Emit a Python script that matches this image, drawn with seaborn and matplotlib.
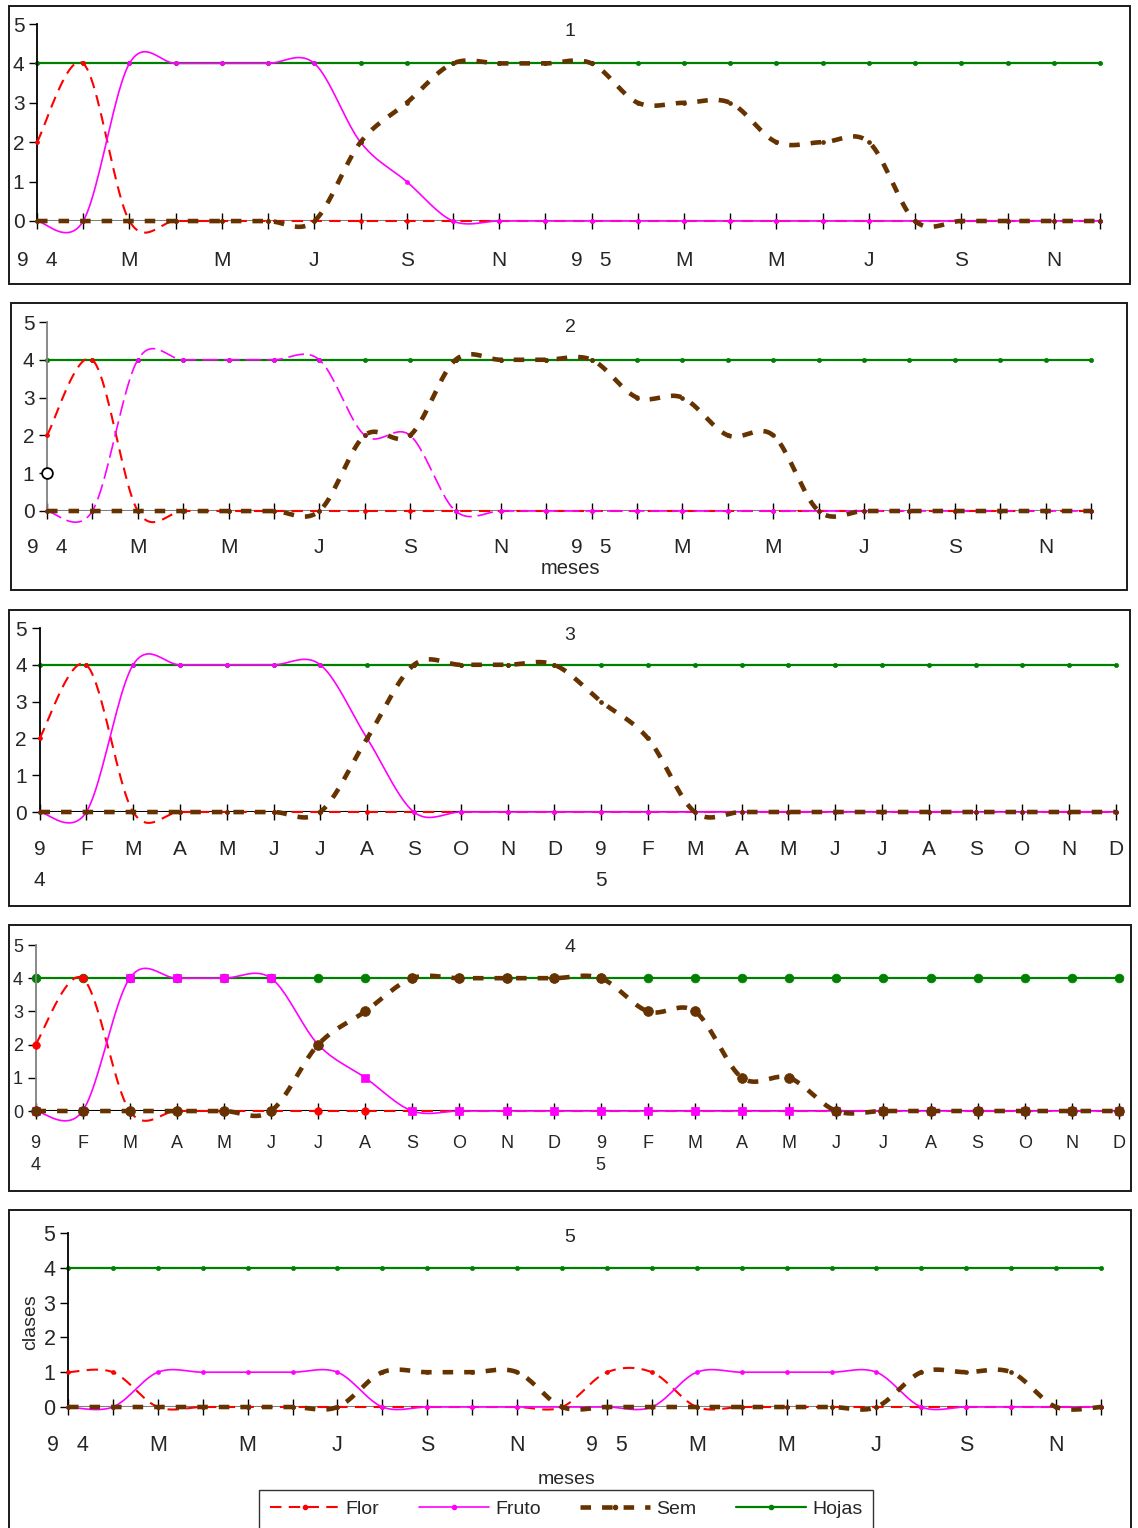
import numpy as np
import pandas as pd
import matplotlib
matplotlib.use("Agg")
import matplotlib.pyplot as plt
import seaborn as sns
from matplotlib.patches import Rectangle
from matplotlib.lines import Line2D
from matplotlib.transforms import blended_transform_factory

W, H = 1138, 1528

# ---------------- data ----------------
months = list(range(24))
labels_biannual = ["9   4", "", "M", "", "M", "", "J", "", "S", "", "N", "",
                   "9   5", "", "M", "", "M", "", "J", "", "S", "", "N", ""]
labels_monthly = ["9", "F", "M", "A", "M", "J", "J", "A", "S", "O", "N", "D",
                  "9", "F", "M", "A", "M", "J", "J", "A", "S", "O", "N", "D"]
year_digits = ["4", "5"]
series_names = ["Flor", "Fruto", "Sem", "Hojas"]
panel_titles = ["1", "2", "3", "4", "5"]

p1_flor = [2, 4, 0, 0, 0, 0, 0, 0, 0, 0, 0, 0, 0, 0, 0, 0, 0, 0, 0, 0, 0, 0, 0, 0]
p1_fruto = [0, 0, 4, 4, 4, 4, 4, 2, 1, 0, 0, 0, 0, 0, 0, 0, 0, 0, 0, 0, 0, 0, 0, 0]
p1_sem = [0, 0, 0, 0, 0, 0, 0, 2, 3, 4, 4, 4, 4, 3, 3, 3, 2, 2, 2, 0, 0, 0, 0, 0]
p1_hojas = [4, 4, 4, 4, 4, 4, 4, 4, 4, 4, 4, 4, 4, 4, 4, 4, 4, 4, 4, 4, 4, 4, 4, 4]

p2_flor = [2, 4, 0, 0, 0, 0, 0, 0, 0, 0, 0, 0, 0, 0, 0, 0, 0, 0, 0, 0, 0, 0, 0, 0]
p2_fruto = [0, 0, 4, 4, 4, 4, 4, 2, 2, 0, 0, 0, 0, 0, 0, 0, 0, 0, 0, 0, 0, 0, 0, 0]
p2_sem = [0, 0, 0, 0, 0, 0, 0, 2, 2, 4, 4, 4, 4, 3, 3, 2, 2, 0, 0, 0, 0, 0, 0, 0]
p2_hojas = [4, 4, 4, 4, 4, 4, 4, 4, 4, 4, 4, 4, 4, 4, 4, 4, 4, 4, 4, 4, 4, 4, 4, 4]

p3_flor = [2, 4, 0, 0, 0, 0, 0, 0, 0, 0, 0, 0, 0, 0, 0, 0, 0, 0, 0, 0, 0, 0, 0, 0]
p3_fruto = [0, 0, 4, 4, 4, 4, 4, 2, 0, 0, 0, 0, 0, 0, 0, 0, 0, 0, 0, 0, 0, 0, 0, 0]
p3_sem = [0, 0, 0, 0, 0, 0, 0, 2, 4, 4, 4, 4, 3, 2, 0, 0, 0, 0, 0, 0, 0, 0, 0, 0]
p3_hojas = [4, 4, 4, 4, 4, 4, 4, 4, 4, 4, 4, 4, 4, 4, 4, 4, 4, 4, 4, 4, 4, 4, 4, 4]

p4_flor = [2, 4, 0, 0, 0, 0, 0, 0, 0, 0, 0, 0, 0, 0, 0, 0, 0, 0, 0, 0, 0, 0, 0, 0]
p4_fruto = [0, 0, 4, 4, 4, 4, 2, 1, 0, 0, 0, 0, 0, 0, 0, 0, 0, 0, 0, 0, 0, 0, 0, 0]
p4_sem = [0, 0, 0, 0, 0, 0, 2, 3, 4, 4, 4, 4, 4, 3, 3, 1, 1, 0, 0, 0, 0, 0, 0, 0]
p4_hojas = [4, 4, 4, 4, 4, 4, 4, 4, 4, 4, 4, 4, 4, 4, 4, 4, 4, 4, 4, 4, 4, 4, 4, 4]

p5_flor = [1, 1, 0, 0, 0, 0, 0, 0, 0, 0, 0, 0, 1, 1, 0, 0, 0, 0, 0, 0, 0, 0, 0, 0]
p5_fruto = [0, 0, 1, 1, 1, 1, 1, 0, 0, 0, 0, 0, 0, 0, 1, 1, 1, 1, 1, 0, 0, 0, 0, 0]
p5_sem = [0, 0, 0, 0, 0, 0, 0, 1, 1, 1, 1, 0, 0, 0, 0, 0, 0, 0, 0, 1, 1, 1, 0, 0]
p5_hojas = [4, 4, 4, 4, 4, 4, 4, 4, 4, 4, 4, 4, 4, 4, 4, 4, 4, 4, 4, 4, 4, 4, 4, 4]

# ---------------- style ----------------
sns.set_style("white")
plt.rcParams["font.family"] = ["Liberation Sans Narrow", "Liberation Sans", "DejaVu Sans"]

C_FLOR = "#FF0000"
C_FRUTO = "#FF00FF"
C_SEM = "#663300"
C_HOJAS = "#008000"


def smooth(xs, ys, n=24):
    """Excel-like smoothed line (Catmull-Rom as cubic Bezier)."""
    P = np.column_stack([np.asarray(xs, float), np.asarray(ys, float)])
    out = []
    t = np.linspace(0, 1, n)[:, None]
    for i in range(len(P) - 1):
        p0 = P[i - 1] if i > 0 else P[i]
        p1, p2 = P[i], P[i + 1]
        p3 = P[i + 2] if i + 2 < len(P) else P[i + 1]
        b1 = p1 + (p2 - p0) / 6
        b2 = p2 - (p3 - p1) / 6
        seg = ((1 - t) ** 3) * p1 + 3 * ((1 - t) ** 2) * t * b1 + 3 * (1 - t) * t ** 2 * b2 + t ** 3 * p2
        out.append(seg if i == 0 else seg[1:])
    seg = np.vstack(out)
    return seg[:, 0], seg[:, 1]


fig = plt.figure(figsize=(W / 100, H / 100), dpi=100)


def fig_rect(l, t, r, b):
    return [l / W, 1 - b / H, (r - l) / W, (b - t) / H]


panels = [
    dict(data=(p1_flor, p1_fruto, p1_sem, p1_hojas), ax=(37, 24, 1100, 221),
         frame=(9, 6, 1130, 284), labels=labels_biannual, big=False, fruto_dash=False,
         yspine="black", xspine="#808080", tsize=15, xpad=16, row2=None, title_y=32),
    dict(data=(p2_flor, p2_fruto, p2_sem, p2_hojas), ax=(47, 322, 1091, 511),
         frame=(11, 303, 1127, 590), labels=labels_biannual, big=False, fruto_dash=True,
         yspine="#808080", xspine="#808080", tsize=15, xpad=14, row2=None, title_y=328),
    dict(data=(p3_flor, p3_fruto, p3_sem, p3_hojas), ax=(39.5, 628, 1116, 812),
         frame=(9, 610, 1130, 906), labels=labels_monthly, big=False, fruto_dash=False,
         yspine="black", xspine="black", tsize=15, xpad=15, row2=880, title_y=635),
    dict(data=(p4_flor, p4_fruto, p4_sem, p4_hojas), ax=(35.5, 945, 1119, 1111),
         frame=(9, 925, 1131, 1191), labels=labels_monthly, big=True, fruto_dash=False,
         yspine="#808080", xspine="black", tsize=13, xpad=11.5, row2=1166, title_y=948),
    dict(data=(p5_flor, p5_fruto, p5_sem, p5_hojas), ax=(68, 1233, 1101, 1407),
         frame=(9, 1210, 1131, 1560), labels=labels_biannual, big=False, fruto_dash=False,
         yspine="black", xspine="#808080", tsize=15.5, xpad=15, row2=None, title_y=1237),
]

for k, p in enumerate(panels):
    fl, tl, fr, fb = p["frame"]
    fig.patches.append(Rectangle((fl / W, 1 - fb / H), (fr - fl) / W, (fb - tl) / H,
                                 transform=fig.transFigure, fill=False,
                                 edgecolor="#1a1a1a", linewidth=1.4, zorder=0))
    l, t, r, b = p["ax"]
    ax = fig.add_axes(fig_rect(l, t, r, b))
    ax.set_facecolor("none")
    flor, fruto, sem, hojas = p["data"]
    big = p["big"]

    specs = [
        (hojas, C_HOJAS, 1.6, "-", "o", 40 if big else 9, 2),
        (flor, C_FLOR, 1.5, (0, (5.5, 3.5)), "o", 30 if big else 8, 3),
        (fruto, C_FRUTO, 1.2, (0, (9.5, 3.5)) if p["fruto_dash"] else "-", "s" if big else "o",
         40 if big else 8, 4),
        (sem, C_SEM, 3.3, (0, (2.3, 2.4)), "o", 50 if big else 8, 5),
    ]
    for vals, col, lw, ls, mk, ms, z in specs:
        sx, sy = smooth(months, vals)
        sns.lineplot(x=sx, y=sy, ax=ax, color=col, linewidth=lw, linestyle=ls,
                     sort=False, estimator=None, clip_on=False, zorder=z)
        sns.scatterplot(x=months, y=vals, ax=ax, color=col, marker=mk, s=ms,
                        edgecolor=col, linewidth=0.5, clip_on=False, zorder=z + 0.1)

    ax.set_xlim(0, 23)
    ax.set_ylim(0, 5)
    ax.set_xlabel("")
    ax.set_ylabel("")
    for s in ["top", "right", "bottom"]:
        ax.spines[s].set_visible(False)
    ax.spines["left"].set_color(p["yspine"])
    ax.spines["left"].set_linewidth(1.3)
    ax.axhline(0, color=p["xspine"], linewidth=1.5, zorder=1)

    ax.set_yticks(range(6))
    ax.set_yticklabels([str(v) for v in range(6)])
    ax.tick_params(axis="y", direction="out", length=6, width=1, pad=3,
                   labelsize=p["tsize"], color="black", left=True)
    ax.set_xticks(months)
    ax.set_xticklabels(p["labels"])
    ax.tick_params(axis="x", direction="inout", length=11, width=1,
                   pad=p["xpad"], labelsize=p["tsize"], color="black", bottom=True)
    ax.xaxis.set_ticks_position("bottom")

    if p["row2"] is not None:
        tr = blended_transform_factory(ax.transData, fig.transFigure)
        for xi, d in zip([0, 12], year_digits):
            ax.text(xi, 1 - p["row2"] / H, d, transform=tr, ha="center", va="center",
                    fontsize=p["tsize"])

    fig.text(570 / W, 1 - p["title_y"] / H, panel_titles[k], ha="center", va="center",
             fontsize=14)

    if k == 1:
        ax.scatter([0], [1], s=60, facecolor="white", edgecolor="black", linewidth=1.3,
                   zorder=10, clip_on=False)
        fig.text(570 / W, 1 - 569 / H, "meses", ha="center", va="center", fontsize=14.5)
    if k == 4:
        fig.text(567 / W, 1 - 1480 / H, "meses", ha="center", va="center", fontsize=14)
        fig.text(31 / W, 1 - 1322 / H, "clases", ha="center", va="center", fontsize=14,
                 rotation=90)

handles = [
    Line2D([], [], color=C_FLOR, lw=1.5, ls=(0, (5.5, 3.5)), marker="o", markersize=3),
    Line2D([], [], color=C_FRUTO, lw=1.2, ls="-", marker="o", markersize=3),
    Line2D([], [], color=C_SEM, lw=3.3, ls=(0, (2.3, 2.4)), marker="o", markersize=3),
    Line2D([], [], color=C_HOJAS, lw=1.6, ls="-", marker="o", markersize=3),
]
leg = fig.legend(handles, series_names, loc="upper left",
                 bbox_to_anchor=(259 / W, 1 - 1490 / H), ncol=4, frameon=True,
                 fancybox=False, edgecolor="black", fontsize=14, handlelength=3.6,
                 columnspacing=2.05, borderpad=0.55, handletextpad=0.3, borderaxespad=0)
leg.get_frame().set_linewidth(1.0)

fig.savefig("out.png", dpi=100)
